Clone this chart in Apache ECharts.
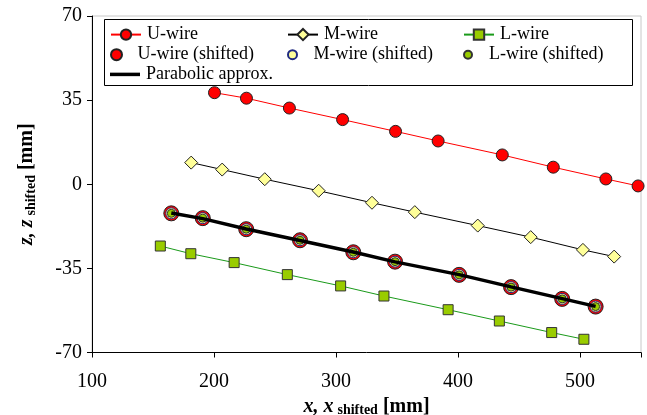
<!DOCTYPE html>
<html>
<head>
<meta charset="utf-8">
<script src="https://cdn.jsdelivr.net/npm/echarts@6/dist/echarts.min.js"></script>
<style>html,body{margin:0;padding:0;background:#fff}#c{width:647px;height:415px}</style>
</head>
<body>
<div id="c"></div>
<script>
// ---- data ----
var uX = [200.4, 226.6, 261.8, 305.4, 348.8, 383.7, 436.3, 478.1, 521.2, 547.6];
var uZ = [38.1, 35.8, 31.7, 26.9, 22.0, 18.0, 12.2, 7.1, 2.2, -0.7];
var mX = [181.3, 206.7, 241.6, 285.8, 329.5, 364.6, 416.2, 459.6, 502.4, 528.0];
var mZ = [9.0, 6.1, 2.1, -2.7, -7.7, -11.6, -17.2, -22.0, -27.3, -30.1];
var lX = [156.0, 181.0, 216.5, 260.1, 303.8, 339.3, 391.9, 433.9, 476.8, 503.2];
var lZ = [-25.7, -28.9, -32.6, -37.6, -42.3, -46.5, -52.2, -56.9, -61.7, -64.5];
var sX = [165.0, 190.8, 226.4, 270.5, 314.2, 348.4, 400.9, 443.5, 485.4, 512.8];
var uSZ = [-12.1, -14.1, -18.7, -23.3, -28.3, -32.2, -37.7, -42.8, -47.7, -50.9];
var mSZ = [-12.1, -14.1, -18.7, -23.3, -28.3, -32.2, -37.7, -42.8, -47.7, -50.9];
var lSZ = [-12.1, -14.1, -18.7, -23.3, -28.3, -32.2, -37.7, -42.8, -47.7, -50.9];
var parX = [165.0, 190.8, 226.4, 270.5, 314.2, 348.4, 400.9, 443.5, 485.4, 512.8];
var parZ = [-12.0, -14.3, -18.6, -23.4, -28.2, -32.3, -37.6, -42.7, -47.6, -50.8];
var xTicks = [100, 200, 300, 400, 500];
var zTicks = [-70, -35, 0, 35, 70];

function pairs(xs, ys) { return xs.map(function (x, i) { return [x, ys[i]]; }); }

var FONT = 'Liberation Serif';
var names = ['U-wire', 'M-wire', 'L-wire', 'Parabolic approx.', 'U-wire (shifted)', 'M-wire (shifted)', 'L-wire (shifted)'];

function lg(name, left, top, h, icon) {
  var d = icon ? { name: name, icon: icon } : name;
  return {
    data: [d], left: left, top: top, orient: 'vertical',
    itemWidth: 30, itemHeight: h, itemGap: 0, padding: 0,
    selectedMode: false,
    textStyle: { fontFamily: FONT, fontSize: 18, color: '#000', lineHeight: 20, padding: [0, 0, 0, 1] }
  };
}

var nameRich = {
  a: { fontFamily: FONT, fontSize: 20, fontWeight: 'bold', fontStyle: 'italic', color: '#000', verticalAlign: 'bottom' },
  b: { fontFamily: FONT, fontSize: 14, fontWeight: 'bold', color: '#000', padding: [0, 0, -1, 4], verticalAlign: 'bottom' },
  c: { fontFamily: FONT, fontSize: 20, fontWeight: 'bold', color: '#000', verticalAlign: 'bottom' }
};

var chart = echarts.init(document.getElementById('c'));
chart.setOption({
  backgroundColor: '#fff',
  animation: false,
  graphic: [{
    type: 'rect', left: 104, top: 19, z: 0,
    shape: { width: 528, height: 66 },
    style: { fill: '#fff', stroke: '#000', lineWidth: 1 }
  }],
  legend: [
    lg('U-wire', 110, 24.6, 13),
    lg('U-wire (shifted)', 110, 44.7, 11),
    lg('Parabolic approx.', 110, 64.4, 20, 'path://M0,0L30,0L30,3.5L0,3.5Z'),
    lg('M-wire', 287, 24.6, 14),
    lg('M-wire (shifted)', 287, 44.7, 9),
    lg('L-wire', 463, 24.6, 13),
    lg('L-wire (shifted)', 463, 44.7, 8)
  ],
  grid: {
    left: 92, right: 6, top: 16, bottom: 62.5, containLabel: false, outerBoundsMode: 'none',
    show: true, borderColor: '#c8c8c8', borderWidth: 1, backgroundColor: 'transparent'
  },
  xAxis: {
    type: 'value', min: 100, max: 550, interval: 100,
    axisLine: { show: true, onZero: false, lineStyle: { color: '#000', width: 1 } },
    axisTick: { show: true, length: 5, lineStyle: { color: '#000' } },
    splitLine: { show: false },
    axisLabel: {
      fontFamily: FONT, fontSize: 20, color: '#000', margin: 19,
      formatter: function (v) { return xTicks.indexOf(v) >= 0 ? String(v) : ''; }
    },
    name: '{a|x, x}{b|shifted}{c| [mm]}', nameLocation: 'middle', nameGap: 40,
    nameTextStyle: { rich: nameRich }
  },
  yAxis: {
    type: 'value', min: -70, max: 70, interval: 35,
    axisLine: { show: true, onZero: false, lineStyle: { color: '#000', width: 1 } },
    axisTick: { show: true, length: 5, lineStyle: { color: '#000' } },
    splitLine: { show: false },
    axisLabel: {
      fontFamily: FONT, fontSize: 20, color: '#000', margin: 10,
      formatter: function (v) { return zTicks.indexOf(v) >= 0 ? String(v) : ''; }
    },
    name: '{a|z, z}{b|shifted}{c| [mm]}', nameLocation: 'middle', nameGap: 55, nameRotate: 90,
    nameTextStyle: { rich: nameRich }
  },
  series: [
    {
      name: names[0], type: 'line', data: pairs(uX, uZ),
      symbol: 'circle', symbolSize: 12,
      lineStyle: { color: '#ff0000', width: 1 },
      itemStyle: { color: '#ff0000', borderColor: '#222', borderWidth: 1 }
    },
    {
      name: names[1], type: 'line', data: pairs(mX, mZ),
      symbol: 'diamond', symbolSize: [13, 13],
      lineStyle: { color: '#000', width: 1 },
      itemStyle: { color: '#ffff99', borderColor: '#222', borderWidth: 1 }
    },
    {
      name: names[2], type: 'line', data: pairs(lX, lZ),
      symbol: 'rect', symbolSize: 10,
      lineStyle: { color: '#1a9a1a', width: 1 },
      itemStyle: { color: '#99cc00', borderColor: '#333', borderWidth: 1 }
    },
    {
      name: names[3], type: 'line', data: pairs(parX, parZ),
      symbol: 'none', showSymbol: false,
      lineStyle: { color: '#000', width: 3.5 },
      itemStyle: { color: '#000' }
    },
    {
      name: names[4], type: 'scatter', data: pairs(sX, uSZ),
      symbol: 'circle', symbolSize: 15,
      itemStyle: { color: '#ff0000', borderColor: '#222', borderWidth: 1, opacity: 1 }
    },
    {
      name: names[5], type: 'scatter', data: pairs(sX, mSZ),
      symbol: 'circle', symbolSize: 11,
      itemStyle: { color: '#ffff99', borderColor: '#1f2a80', borderWidth: 1, opacity: 1 }
    },
    {
      name: names[6], type: 'scatter', data: pairs(sX, lSZ),
      symbol: 'circle', symbolSize: 8,
      itemStyle: { color: '#99cc00', borderColor: '#333', borderWidth: 1, opacity: 1 }
    }
  ]
});
</script>
</body>
</html>
